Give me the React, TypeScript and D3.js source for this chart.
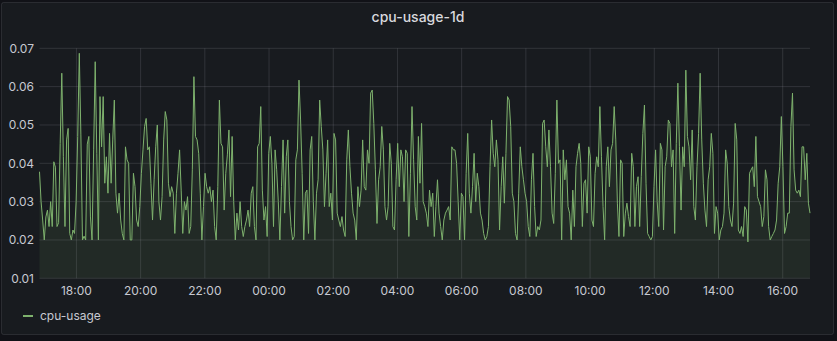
import React from "react";
import * as d3 from "d3";

const title = "cpu-usage-1d";
const seriesName = "cpu-usage";
const startTime = Date.UTC(2021, 5, 1, 16, 51);
const endTime = Date.UTC(2021, 5, 2, 16, 51);
const yTicks = [0.01, 0.02, 0.03, 0.04, 0.05, 0.06, 0.07];

const cpuUsage = [
  // 16:51 - 19:50
  0.0378, 0.030, 0.0252, 0.020, 0.026, 0.0278, 0.0235, 0.030, 0.0235, 0.0404, 0.039, 0.0235, 0.0245, 0.0452, 0.0635,
  0.0417, 0.0235, 0.0461, 0.0491, 0.0217, 0.020, 0.0226, 0.0217, 0.030, 0.047, 0.0687, 0.0474, 0.020, 0.021, 0.020,
  0.045, 0.047, 0.026, 0.020, 0.0435, 0.0665, 0.0426, 0.020, 0.0574, 0.0443, 0.0574, 0.0348, 0.0417, 0.0322, 0.0478,
  0.0348, 0.0461, 0.0565, 0.0322, 0.027, 0.0322, 0.0252, 0.0217, 0.020, 0.0443, 0.0409, 0.040, 0.020, 0.020, 0.0374,
  // 19:50 - 22:40
  0.0339, 0.0252, 0.0235, 0.0287, 0.0374, 0.0435, 0.0496, 0.0517, 0.0435, 0.0443, 0.0348, 0.0252, 0.0357, 0.0443,
  0.050, 0.030, 0.0252, 0.0313, 0.0461, 0.0535, 0.0513, 0.0348, 0.0313, 0.0339, 0.0322, 0.0217, 0.0322, 0.0374,
  0.0435, 0.033, 0.0217, 0.030, 0.0278, 0.0313, 0.0217, 0.0235, 0.0383, 0.0626, 0.047, 0.0461, 0.0426, 0.0322,
  0.020, 0.0287, 0.0374, 0.0339, 0.0322, 0.0339, 0.030, 0.033, 0.0235, 0.020, 0.0339, 0.0565, 0.0452, 0.0443, 0.0278,
  // 22:40 - 04:30
  0.0374, 0.0422, 0.0487, 0.0313, 0.047, 0.030, 0.020, 0.027, 0.0226, 0.030, 0.0235, 0.0209, 0.0235, 0.0252, 0.0278,
  0.0235, 0.0322, 0.0339, 0.0235, 0.020,
  0.0443, 0.0452, 0.0548, 0.033, 0.0252, 0.0287, 0.0209, 0.0426, 0.047, 0.040, 0.0235, 0.0435, 0.0383, 0.030, 0.020,
  0.0339, 0.0461, 0.027, 0.0417, 0.0461, 0.030, 0.0235, 0.020, 0.0209, 0.0409, 0.0435, 0.0617, 0.0513, 0.0374, 0.020,
  0.0322, 0.033, 0.0217, 0.0435, 0.047, 0.030, 0.020, 0.0322, 0.0357, 0.0565, 0.0496, 0.0435, 0.0287, 0.0374, 0.0461,
  0.0287, 0.0322, 0.0252, 0.0478, 0.0461, 0.027, 0.0252, 0.0235, 0.0261, 0.0226, 0.0209, 0.0409, 0.0487, 0.0391,
  0.0322, 0.027, 0.0252, 0.020, 0.0339, 0.0287, 0.033, 0.0461, 0.0339, 0.033, 0.0435, 0.040, 0.0583, 0.0591, 0.0504,
  0.0383, 0.0243, 0.0357, 0.0391, 0.0496, 0.0435, 0.0287, 0.0252, 0.0287, 0.0452, 0.040, 0.0235, 0.0226, 0.0357,
  0.0452, 0.0339, 0.0435, 0.0417, 0.030, 0.0435, 0.0426, 0.0209, 0.0374, 0.0548, 0.0409, 0.0287, 0.0252, 0.047,
  0.0348, 0.0504, 0.030,
  // 04:30 - 10:25
  0.0287, 0.027, 0.0235, 0.033, 0.0287, 0.0322, 0.0209, 0.0287, 0.0357, 0.027, 0.0235, 0.020, 0.0252, 0.027, 0.0278,
  0.0287, 0.0252, 0.0443, 0.0435, 0.0435, 0.040, 0.030, 0.020, 0.0322, 0.0313, 0.020, 0.0374, 0.0478, 0.0322, 0.027,
  0.0339, 0.0426, 0.030, 0.0374, 0.0339, 0.027, 0.0252, 0.0217, 0.020, 0.0209, 0.0235, 0.0391, 0.0513, 0.0426,
  0.0391, 0.0461, 0.0409, 0.0226, 0.0339, 0.0417, 0.0296, 0.0426, 0.0574, 0.0565, 0.0496, 0.0322, 0.030, 0.0217,
  0.020, 0.0322, 0.0443, 0.0391, 0.0357, 0.0322, 0.030, 0.0235, 0.0209, 0.0357, 0.0426, 0.0287, 0.0209, 0.0235,
  0.0226, 0.0252, 0.0504, 0.0513, 0.0443, 0.0391, 0.0487, 0.0391, 0.027, 0.0243, 0.0374, 0.0565, 0.040, 0.0409,
  0.020, 0.0435, 0.0357, 0.0409, 0.0287, 0.027, 0.020, 0.033, 0.0235, 0.0391, 0.0426, 0.0452, 0.040, 0.0235, 0.0348,
  0.0357, 0.027, 0.0443, 0.0417, 0.0252, 0.0235, 0.0374, 0.0417, 0.0391, 0.0548, 0.0417, 0.0287, 0.020, 0.0391,
  0.0443, 0.0339, 0.0435,
  // 10:25 - 16:51
  0.0452, 0.0548, 0.0461, 0.0296, 0.0209, 0.0409, 0.040, 0.0209, 0.027, 0.0296, 0.0261, 0.0235, 0.0426, 0.0391,
  0.0235, 0.0339, 0.0365, 0.0235, 0.0365, 0.0478, 0.0552, 0.0348, 0.0217, 0.0209, 0.020, 0.0209, 0.0339, 0.0435,
  0.030, 0.0235, 0.0452, 0.0435, 0.0226, 0.0391, 0.0417, 0.0513, 0.0504, 0.0391, 0.0435, 0.0217, 0.0452, 0.0609,
  0.0443, 0.0278, 0.0443, 0.0391, 0.0643, 0.047, 0.0443, 0.0357, 0.0487, 0.0287, 0.0252, 0.0391, 0.0478, 0.0635,
  0.0461, 0.0348, 0.0278, 0.0235, 0.0357, 0.0391, 0.0478, 0.0426, 0.0217, 0.0287, 0.027, 0.020, 0.0226, 0.0235,
  0.027, 0.0435, 0.040, 0.0287, 0.0252, 0.0235, 0.0296, 0.0504, 0.0461, 0.0226, 0.0217, 0.0235, 0.0209, 0.0287,
  0.0278, 0.0195, 0.0374, 0.0383, 0.0391, 0.0339, 0.047, 0.0313, 0.030, 0.0287, 0.0235, 0.0261, 0.0383, 0.0357,
  0.0235, 0.020, 0.0209, 0.0217, 0.0226, 0.0252, 0.0348, 0.0391, 0.0522, 0.0391, 0.0217, 0.0235, 0.027, 0.027,
  0.0496, 0.0583, 0.0383, 0.033, 0.0322, 0.033, 0.0313, 0.0443, 0.0443, 0.0357, 0.0426, 0.0296, 0.027,
];

export default function App() {
  const W = 837;
  const H = 341;
  const left = 39.5;
  const right = 810;
  const top = 48.3;
  const bottom = 278.3;

  const x = d3.scaleUtc().domain([startTime, endTime]).range([left, right]);
  const y = d3.scaleLinear().domain([0.01, 0.07]).range([bottom, top]);
  const step = (endTime - startTime) / (cpuUsage.length - 1);
  const pts: [number, number][] = cpuUsage.map((v, i) => [startTime + i * step, v]);

  const line = d3
    .line<[number, number]>()
    .x((d) => x(d[0]))
    .y((d) => y(d[1]));
  const area = d3
    .area<[number, number]>()
    .x((d) => x(d[0]))
    .y0(y(0.01))
    .y1((d) => y(d[1]));

  const xTicks = x.ticks(d3.utcHour.every(2) as any);
  const fmt = d3.utcFormat("%H:%M");
  const font = "Inter, Roboto, 'Noto Sans', sans-serif";
  const txt = "#c7c9d1";
  const grid = "rgba(204,204,220,0.14)";
  const green = "#7EB26D";

  return (
    <div>
      <style>{"body{margin:0;background:#111217}"}</style>
      <svg width={W} height={H} style={{ display: "block", background: "#111217" }} fontFamily={font}>
        <rect x={1.5} y={2.5} width={832} height={332} rx={2} fill="#181b1f" stroke="rgba(204,204,220,0.12)" />
        <text x={418} y={21.5} textAnchor="middle" fontSize={14} fontWeight={500} fill="#d8d9de">
          {title}
        </text>
        {yTicks.map((t) => (
          <g key={"y" + t}>
            <line x1={left} x2={right} y1={y(t)} y2={y(t)} stroke={grid} />
            <text x={34} y={y(t)} dy="0.35em" textAnchor="end" fontSize={12} fill={txt}>
              {t.toFixed(2)}
            </text>
          </g>
        ))}
        {xTicks.map((t) => (
          <g key={"x" + +t}>
            <line x1={x(t)} x2={x(t)} y1={top} y2={bottom} stroke={grid} />
            <text x={x(t)} y={291} dy="0.35em" textAnchor="middle" fontSize={12} fill={txt}>
              {fmt(t)}
            </text>
          </g>
        ))}
        <path d={area(pts) || ""} fill={green} fillOpacity={0.1} />
        <path d={line(pts) || ""} fill="none" stroke={green} strokeWidth={1} />
        <line x1={23} x2={33} y1={316} y2={316} stroke={green} strokeWidth={2} />
        <text x={40} y={316} dy="0.35em" fontSize={12} fill={txt}>
          {seriesName}
        </text>
      </svg>
    </div>
  );
}
